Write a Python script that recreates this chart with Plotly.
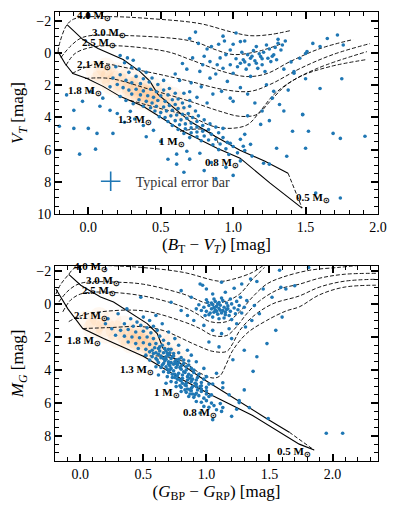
import plotly.graph_objects as go
from plotly.subplots import make_subplots

# ---- data ----
# Tycho panel: (B_T - V_T, V_T)
TYC_STARS = [
    (1.00, -0.55), (1.05, -0.71), (1.08, -0.75), (0.85, -0.40), (0.98, -0.19), (1.16, -0.40), (1.23, -0.50),
    (1.31, -0.61), (1.34, -0.50), (1.33, -0.19), (1.28, 0.11), (1.24, 0.32), (1.19, 0.22), (1.12, 0.32),
    (1.07, 0.42), (1.05, 0.63), (1.11, 0.73), (1.16, 0.63), (1.20, 0.73), (1.26, 0.53), (1.30, 0.42),
    (0.98, 0.73), (0.93, 0.94), (0.89, 0.73), (0.84, 0.53), (0.79, 0.73), (0.77, 1.14), (0.84, 1.56),
    (0.96, 1.76), (0.92, 2.38), (0.98, 2.80), (1.00, 3.00), (1.23, 1.97), (1.28, 2.38), (1.27, 2.80),
    (1.46, 0.32), (1.42, 1.25), (1.51, -0.09), (1.60, -0.40), (1.72, -1.12), (1.76, -0.50), (1.48, 3.83),
    (1.10, 0.10), (1.13, 0.20), (1.02, 0.35), (1.08, 0.55), (1.15, 0.48), (1.18, 0.05), (1.21, -0.05),
    (1.25, -0.25), (1.14, -0.15), (1.06, -0.05), (0.95, 0.10), (0.91, 0.30), (1.03, 0.85), (1.09, 1.00),
    (1.17, 0.95), (1.22, 1.15), (0.88, 1.30), (1.00, 1.25), (1.12, 1.45), (1.20, 0.35), (1.27, 0.20),
    (1.29, -0.35), (1.36, -0.75), (1.31, -0.85), (0.94, -0.75), (0.90, -0.55), (0.82, -0.25), (0.76, -0.60),
    (0.70, -0.90), (0.74, -1.30), (0.93, -1.05), (1.02, -1.25), (0.80, 0.20), (0.72, 0.30), (0.65, 0.65),
    (0.68, 1.00), (0.60, 1.30), (0.63, 1.70), (0.71, 1.85), (0.78, 2.10), (0.86, 2.55), (0.70, 2.40),
    (0.75, 2.75), (0.82, 3.10), (1.05, 2.15), (1.10, 2.55), (1.15, 3.10), (1.35, 1.00), (1.40, 0.55),
    (1.55, -0.60), (1.65, -0.90), (1.50, 1.60), (1.38, 2.30), (1.32, 3.20), (1.20, 3.60), (1.10, 3.90),
    (0.22, 0.15), (0.27, 0.30), (0.31, 0.45), (0.25, 0.60), (0.19, 0.85), (0.30, 0.90), (0.35, 1.00),
    (0.40, 1.20), (0.28, 1.20), (0.22, 1.35), (0.17, 1.55), (0.33, 1.45), (0.38, 1.60), (0.44, 1.55),
    (0.26, 1.70), (0.30, 1.85), (0.36, 1.90), (0.42, 1.80), (0.48, 1.95), (0.20, 1.95), (0.15, 2.10),
    (0.24, 2.15), (0.52, 1.70), (0.28, 2.30), (0.33, 2.25), (0.38, 2.35), (0.43, 2.25), (0.47, 2.40),
    (0.52, 2.30), (0.56, 2.20), (0.30, 2.55), (0.36, 2.60), (0.41, 2.65), (0.45, 2.75), (0.50, 2.65),
    (0.55, 2.60), (0.60, 2.50), (0.35, 2.90), (0.40, 3.00), (0.44, 3.10), (0.48, 2.95), (0.53, 3.00),
    (0.58, 2.90), (0.62, 2.85), (0.38, 3.30), (0.43, 3.40), (0.47, 3.30), (0.52, 3.35), (0.56, 3.25),
    (0.60, 3.20), (0.65, 3.10), (0.22, 2.70), (0.26, 2.95), (0.31, 3.15), (0.66, 2.50), (0.70, 2.95),
    (0.46, 3.60), (0.50, 3.70), (0.54, 3.60), (0.58, 3.55), (0.62, 3.45), (0.66, 3.40), (0.70, 3.30),
    (0.49, 3.95), (0.53, 4.00), (0.57, 3.90), (0.61, 3.85), (0.65, 3.80), (0.69, 3.75), (0.74, 3.60),
    (0.55, 4.25), (0.60, 4.20), (0.64, 4.15), (0.68, 4.05), (0.72, 4.00), (0.76, 3.90), (0.58, 4.50),
    (0.63, 4.45), (0.67, 4.40), (0.71, 4.35), (0.75, 4.25), (0.80, 4.15), (0.62, 4.75), (0.67, 4.70),
    (0.71, 4.65), (0.75, 4.60), (0.79, 4.50), (0.84, 4.40), (0.66, 5.00), (0.71, 4.95), (0.75, 4.90),
    (0.79, 4.85), (0.83, 4.75), (0.88, 4.60), (0.70, 5.25), (0.75, 5.20), (0.80, 5.15), (0.85, 5.05),
    (0.90, 4.95), (0.78, 5.45), (0.83, 5.40), (0.88, 5.35), (0.93, 5.25), (0.86, 5.70), (0.91, 5.65),
    (0.96, 5.55), (0.90, 6.00), (0.95, 5.95), (1.00, 5.80), (0.97, 6.30), (1.03, 6.20), (1.08, 6.05),
    (1.13, 6.40), (1.25, 6.90), (1.05, 6.70),
    (-0.20, 4.55), (-0.10, 4.68), (0.00, 4.68), (0.06, 4.99), (0.17, 4.99), (-0.06, 6.28), (0.05, 5.97),
    (-0.10, 3.56), (-0.04, 3.00), (0.15, 3.56), (0.20, 3.75), (0.29, 3.62), (0.08, 3.30), (0.25, 4.30),
    (0.32, 4.10), (0.38, 4.50), (0.45, 4.80), (0.40, 5.20), (0.50, 5.50), (-0.15, 2.60), (0.02, 2.40),
    (0.10, 2.80),
    (0.61, 6.28), (0.61, 6.90), (0.70, 6.59), (0.68, 6.10), (0.77, 6.22), (0.55, 6.60), (0.85, 6.80),
    (0.80, 7.30), (0.95, 7.10), (1.00, 7.60), (0.88, 7.80), (0.66, 7.40),
    (1.19, 4.43), (1.41, 4.86), (1.52, 4.86), (1.69, 4.99), (1.74, 5.30), (1.91, 5.17), (1.50, 5.91),
    (1.30, 5.91), (1.37, 6.41), (1.21, 6.84), (1.57, 8.70), (1.74, 9.00), (1.05, 5.36), (0.98, 5.60),
    (1.07, 5.79), (1.12, 5.67), (1.08, 5.05), (0.93, 4.68), (1.48, 3.81), (1.42, 1.15), (1.50, 0.03),
    (1.25, 4.20), (1.35, 3.60), (1.60, 2.20), (1.75, 1.60),
]

# Gaia panel: (G_BP - G_RP, M_G)
GAIA_STARS = [
    (1.02, 0.10), (1.05, 0.05), (1.08, 0.15), (1.11, 0.08), (1.14, 0.20), (1.17, 0.12), (1.04, 0.30),
    (1.07, 0.35), (1.10, 0.28), (1.13, 0.40), (1.16, 0.33), (1.19, 0.45), (1.00, 0.45), (1.03, 0.55),
    (1.06, 0.50), (1.09, 0.62), (1.12, 0.55), (1.15, 0.65), (1.18, 0.70), (1.01, -0.10), (1.04, -0.05),
    (1.07, -0.15), (1.10, -0.08), (1.13, -0.20), (1.16, -0.05), (1.20, 0.00), (1.22, 0.25), (0.98, 0.20),
    (0.96, 0.40), (0.99, 0.70), (1.05, 0.80), (1.10, 0.90), (1.14, 0.85), (1.20, 0.95), (1.23, 0.60),
    (1.25, 0.35), (1.26, 0.10), (1.24, -0.15), (1.19, -0.30), (1.12, -0.35), (1.06, -0.30), (1.00, -0.25),
    (0.94, 0.05), (0.92, 0.30), (1.08, 0.45), (1.11, 0.38), (1.06, 0.22), (1.15, 0.50), (1.02, 0.65),
    (1.17, 0.30), (1.09, 0.00), (1.28, 0.55), (1.30, 0.20), (1.27, -0.40), (1.32, -0.20),
    (0.95, -1.20), (1.00, -0.90), (1.05, -0.60), (1.12, -1.31), (0.97, -1.13), (1.15, -0.70), (1.22, -0.95),
    (1.28, -1.20), (1.35, -1.50), (1.40, -1.35), (1.45, -0.90), (1.58, -2.03), (1.81, -2.20), (1.59, -1.00),
    (1.63, -0.90), (1.70, -1.10), (1.52, -0.40), (1.38, 0.10), (1.42, 0.60), (1.36, 1.00), (1.31, 1.40),
    (1.24, 1.20), (1.18, 1.50), (1.12, 1.80), (1.05, 1.60), (0.98, 1.30), (0.90, 1.00), (0.85, 0.70),
    (0.80, 0.40), (0.88, -0.40), (0.80, -0.80), (0.72, -0.10), (1.02, 2.30), (1.10, 2.60), (1.20, 2.10),
    (1.30, 2.80), (1.40, 3.20), (1.21, 3.38), (1.37, 4.08), (1.48, 2.40), (1.55, 1.60), (1.60, 0.80),
    (0.30, 0.60), (0.37, 0.30), (0.48, -0.40), (0.40, 0.90), (0.45, 1.10), (0.50, 0.80), (0.55, 1.00),
    (0.35, 1.20), (0.42, 1.35), (0.48, 1.30), (0.53, 1.45), (0.58, 1.35), (0.25, 1.50), (0.32, 1.60),
    (0.38, 1.55), (0.44, 1.70), (0.50, 1.65), (0.56, 1.75), (0.61, 1.60), (0.28, 1.90), (0.35, 1.95),
    (0.41, 2.00), (0.47, 2.05), (0.53, 2.00), (0.58, 2.10), (0.63, 1.95), (0.66, 2.20), (0.38, 2.30),
    (0.44, 2.40), (0.50, 2.35), (0.55, 2.45), (0.60, 2.40), (0.65, 2.50), (0.70, 2.40), (0.46, 2.70),
    (0.52, 2.75), (0.57, 2.80), (0.62, 2.70), (0.68, 2.85), (0.72, 2.75), (0.20, 1.20), (0.22, 0.90),
    (0.60, 0.70), (0.65, 1.20), (0.70, 1.70), (0.75, 2.10), (0.78, 2.50),
    (0.58, 3.00), (0.62, 3.05), (0.66, 2.95), (0.70, 3.10), (0.74, 3.00), (0.78, 2.95), (0.60, 3.30),
    (0.64, 3.25), (0.68, 3.35), (0.72, 3.30), (0.76, 3.40), (0.80, 3.25), (0.62, 3.55), (0.66, 3.60),
    (0.70, 3.50), (0.74, 3.65), (0.78, 3.55), (0.82, 3.60), (0.86, 3.45), (0.64, 3.85), (0.68, 3.80),
    (0.72, 3.90), (0.76, 3.85), (0.80, 3.95), (0.84, 3.80), (0.88, 3.90), (0.66, 4.10), (0.70, 4.15),
    (0.74, 4.05), (0.78, 4.20), (0.82, 4.10), (0.86, 4.25), (0.90, 4.15), (0.69, 4.40), (0.73, 4.45),
    (0.77, 4.35), (0.81, 4.50), (0.85, 4.40), (0.89, 4.55), (0.93, 4.45), (0.72, 4.70), (0.76, 4.75),
    (0.80, 4.65), (0.84, 4.80), (0.88, 4.70), (0.92, 4.85), (0.96, 4.75), (0.76, 5.00), (0.80, 5.05),
    (0.84, 4.95), (0.88, 5.10), (0.92, 5.00), (0.96, 5.15), (1.00, 5.05), (0.80, 5.30), (0.84, 5.35),
    (0.88, 5.25), (0.92, 5.40), (0.96, 5.30), (1.00, 5.45), (0.86, 5.60), (0.90, 5.65), (0.94, 5.55),
    (0.98, 5.70), (1.02, 5.60), (0.92, 5.90), (0.96, 5.95), (1.00, 5.85), (1.04, 6.00), (0.98, 6.20),
    (1.02, 6.25), (1.06, 6.15), (1.08, 6.40), (1.12, 6.50),
    (0.67, 3.45), (0.71, 3.75), (0.75, 4.25), (0.79, 4.60), (0.83, 4.90), (0.87, 5.20), (0.91, 5.50),
    (0.73, 3.20), (0.77, 3.70), (0.81, 4.30), (0.85, 4.60), (0.89, 5.00), (0.93, 5.20), (0.63, 2.60),
    (0.69, 3.00), (0.75, 3.50), (0.79, 3.85), (0.83, 4.15), (0.87, 4.50), (0.91, 4.80), (0.95, 5.00),
    (0.60, 2.95), (0.64, 3.15), (0.68, 3.20), (0.72, 3.55), (0.76, 3.60), (0.80, 3.75), (0.84, 4.00),
    (0.88, 4.35), (0.92, 4.60), (0.96, 4.95), (1.00, 5.25), (1.04, 5.50), (0.65, 3.70), (0.69, 3.95),
    (0.73, 4.25), (0.77, 4.55), (0.81, 4.80), (0.85, 5.15), (0.89, 5.45), (0.70, 2.75), (0.74, 3.15),
    (0.78, 3.35), (0.82, 3.40), (0.86, 3.70), (0.90, 4.00), (0.94, 4.25), (0.98, 4.55), (1.02, 4.85),
    (0.71, 4.00), (0.75, 4.45), (0.79, 4.95), (0.83, 5.20), (0.87, 5.45), (0.66, 3.30), (0.70, 3.65),
    (0.61, 3.40), (0.59, 2.65), (0.55, 2.90), (0.57, 3.20), (0.63, 2.85), (0.67, 2.70), (0.71, 2.95),
    (1.05, 4.84), (1.13, 5.07), (1.11, 6.03), (1.13, 6.27), (1.26, 5.85), (1.34, 6.27), (1.49, 6.93),
    (1.95, 7.82), (2.08, 7.82), (1.13, 4.77), (1.26, 5.97), (1.24, 6.37), (1.18, 5.50), (1.30, 5.20),
    (1.20, 6.80), (1.05, 7.00), (0.95, 6.60), (1.00, 4.40), (1.08, 4.20), (0.98, 3.90), (0.92, 3.50),
    (0.88, 3.10), (0.85, 2.80), (0.55, 3.40), (0.52, 3.10), (0.60, 3.80), (0.62, 4.30), (0.68, 4.80),
]

# density cloud (orange shading) centres
TYC_CLOUD = [
    (0.05, 1.1), (0.10, 1.3), (0.15, 1.5), (0.20, 1.7), (0.25, 1.9), (0.30, 2.1), (0.35, 2.4), (0.40, 2.6),
    (0.45, 2.9), (0.50, 3.1), (0.55, 3.4), (0.60, 3.6), (0.68, 3.9), (0.12, 0.9), (0.20, 1.2), (0.28, 1.5),
    (0.36, 1.8), (0.44, 2.1), (0.52, 2.4), (0.58, 2.7), (0.64, 3.0), (0.08, 1.7), (0.16, 2.0), (0.24, 2.3),
    (0.32, 2.6), (0.40, 2.9), (0.46, 3.2), (0.30, 2.3), (0.38, 2.5), (0.42, 2.7), (0.34, 2.0), (0.45, 2.5),
    (0.36, 2.9), (0.50, 2.8),
]
GAIA_CLOUD = [
    (0.05, 1.0), (0.12, 1.2), (0.20, 1.4), (0.28, 1.6), (0.36, 1.9), (0.44, 2.1), (0.52, 2.4), (0.60, 2.7),
    (0.68, 3.0), (0.78, 3.3), (0.15, 0.8), (0.25, 1.0), (0.35, 1.3), (0.45, 1.5), (0.55, 1.8), (0.63, 2.1),
    (0.72, 2.4), (0.10, 1.5), (0.20, 1.8), (0.30, 2.1), (0.40, 2.4), (0.50, 2.7), (0.58, 3.0), (0.42, 1.8),
    (0.48, 2.0), (0.46, 2.3), (0.52, 2.1), (0.38, 2.1), (0.55, 2.5),
]

# main-sequence band edges
TYC_ZAMS_X = [-0.209, -0.161, -0.106, -0.009, 0.102, 0.219, 0.378, 0.654, 0.889, 1.048, 1.255, 1.476]
TYC_ZAMS_Y = [-0.09, 0.65, 1.27, 1.58, 2.07, 2.69, 3.31, 4.86, 5.91, 6.53, 8.08, 9.63]
TYC_TAMS_X = [-0.147, -0.037, 0.067, 0.240, 0.357, 0.426, 0.481, 0.564, 0.702, 0.875, 1.047, 1.220, 1.379]
TYC_TAMS_Y = [-1.76, -0.84, -0.28, 0.40, 1.15, 1.76, 2.57, 3.19, 4.24, 5.17, 6.04, 6.72, 7.46]
GAIA_ZAMS_X = [-0.193, -0.098, 0.020, 0.185, 0.500, 0.815, 1.051, 1.366, 1.736, 1.854]
GAIA_ZAMS_Y = [-0.90, 0.30, 1.49, 2.09, 3.16, 4.60, 5.55, 6.75, 8.48, 8.84]
GAIA_TAMS_X = [-0.091, 0.004, 0.161, 0.264, 0.531, 0.610, 0.657, 0.768, 0.949, 1.209, 1.476, 1.657]
GAIA_TAMS_Y = [-1.79, -1.13, -0.42, -0.12, 1.19, 1.79, 2.69, 3.46, 4.42, 5.67, 6.93, 7.76]

# evolutionary tracks, mass -> (colour, magnitude)
TYC_TRACKS = {
    "4.0": ([-0.209, -0.195, -0.147, -0.092, 0.150, 0.426, 0.771, 0.979, 1.117, 1.255, 1.393],
            [-0.09, -0.71, -1.76, -2.14, -2.26, -2.14, -1.83, -1.33, -1.08, -1.15, -1.39]),
    "3.0": ([-0.189, -0.126, -0.057, 0.012, 0.288, 0.654, 0.771, 0.875, 0.999, 1.165, 1.338],
            [0.28, -0.40, -0.90, -1.08, -1.08, -0.84, -0.59, -0.22, 0.09, -0.09, -0.59]),
    "2.5": ([-0.154, -0.092, 0.012, 0.171, 0.543, 0.702, 0.930, 1.096, 1.234, 1.393, 1.600, 1.828],
            [0.77, 0.03, -0.34, -0.46, -0.09, 0.40, 1.15, 1.46, 1.27, 0.53, -0.28, -0.84]),
    "2.1": ([-0.113, -0.023, 0.081, 0.288, 0.495, 0.702, 0.930, 1.117, 1.255, 1.462, 1.690, 1.945],
            [1.27, 0.90, 0.65, 0.96, 1.33, 1.76, 2.26, 2.38, 1.95, 0.96, 0.09, -0.59]),
    "1.8": ([-0.023, 0.150, 0.426, 0.702, 0.910, 1.048, 1.165, 1.255, 1.372, 1.579, 1.924],
            [1.58, 1.58, 2.26, 3.00, 3.62, 3.93, 3.81, 3.00, 1.95, 0.96, -0.09]),
    "1.3": ([0.288, 0.495, 0.702, 0.861, 0.999, 1.103, 1.186, 1.289, 1.462, 1.669, 1.924],
            [2.94, 3.44, 3.93, 4.55, 4.67, 4.43, 3.62, 2.51, 1.46, 0.84, 0.40]),
    "1": ([0.633, 0.792, 0.875, 0.896], [4.86, 4.74, 5.17, 5.60]),
    "0.5": ([1.379, 1.476], [7.46, 9.63]),
}
GAIA_TRACKS = {
    "4.0": ([-0.193, -0.154, -0.091, -0.059, -0.012, 0.106, 0.476, 0.815, 1.106, 1.209, 1.366, 1.461],
            [-0.60, -1.19, -1.79, -2.09, -2.27, -2.33, -2.21, -1.91, -1.37, -1.49, -1.91, -2.39]),
    "3.0": ([-0.169, -0.106, -0.035, 0.043, 0.303, 0.500, 0.815, 1.028, 1.161, 1.264, 1.366, 1.461],
            [-0.12, -0.72, -1.13, -1.31, -1.31, -1.19, -0.60, 0.00, -0.18, -0.60, -1.49, -2.21]),
    "2.5": ([-0.138, -0.075, 0.004, 0.161, 0.500, 0.815, 0.925, 1.028, 1.161, 1.264, 1.366, 1.476, 1.602, 1.815, 2.051, 2.209],
            [0.48, -0.24, -0.60, -0.72, -0.48, 0.18, 0.60, 1.07, 1.07, 0.48, -0.42, -1.19, -1.61, -2.03, -2.21, -2.33]),
    "2.1": ([-0.091, 0.004, 0.161, 0.500, 0.815, 0.949, 1.051, 1.161, 1.240, 1.319, 1.421, 1.579, 1.736, 1.894, 2.091, 2.343],
            [1.07, 0.72, 0.48, 0.42, 1.07, 1.49, 1.91, 1.91, 1.37, 0.60, -0.18, -0.90, -1.19, -1.55, -1.79, -1.85]),
    "1.8": ([0.020, 0.240, 0.476, 0.657, 0.925, 1.051, 1.161, 1.209, 1.264, 1.366, 1.524, 1.736, 1.894, 2.091, 2.343],
            [1.49, 1.43, 1.37, 1.61, 2.51, 2.87, 2.87, 2.39, 1.61, 0.78, 0.00, -0.48, -1.01, -1.37, -1.49]),
    "1.3": ([0.500, 0.634, 0.791, 0.949, 1.051, 1.106, 1.161, 1.209, 1.319, 1.476, 1.634, 1.736, 1.894, 2.091, 2.343],
            [3.16, 3.16, 3.40, 4.18, 4.48, 4.36, 3.58, 2.81, 1.79, 1.01, 0.42, 0.18, -0.54, -1.01, -1.13]),
    "0.5": ([1.657, 1.854], [7.76, 8.84]),
}

# mass labels: text, colour, magnitude
MASS_LABELS = ["4.0", "3.0", "2.5", "2.1", "1.8", "1.3", "1", "0.8", "0.5"]
TYC_LABEL_X = [0.040, 0.140, 0.075, 0.040, -0.020, 0.320, 0.580, 0.925, 1.550]
TYC_LABEL_Y = [-2.30, -1.25, -0.60, 0.75, 2.38, 4.15, 5.55, 6.85, 9.00]
GAIA_LABEL_X = [0.083, 0.177, 0.146, 0.083, 0.028, 0.453, 0.689, 0.949, 1.697]
GAIA_LABEL_Y = [-2.21, -1.40, -0.75, 0.72, 2.27, 4.00, 5.37, 6.57, 8.96]

BLUE = "#1f77b4"
FONT = "Liberation Serif"

fig = make_subplots(rows=2, cols=1)


def add_panel(row, stars, cloud, zams, tams, tracks):
    fig.add_trace(go.Scatter(
        x=[c[0] for c in cloud], y=[c[1] for c in cloud], mode="markers",
        marker=dict(size=20, color="rgb(255,150,60)", opacity=0.07, line=dict(width=0)),
        hoverinfo="skip", showlegend=False), row=row, col=1)
    for mass, (tx, ty) in tracks.items():
        fig.add_trace(go.Scatter(
            x=tx, y=ty, mode="lines", line=dict(color="black", width=0.9, dash="4px,2px", shape="spline"),
            showlegend=False, hoverinfo="skip"), row=row, col=1)
    for ex, ey in (zams, tams):
        fig.add_trace(go.Scatter(
            x=ex, y=ey, mode="lines", line=dict(color="black", width=1.1),
            showlegend=False, hoverinfo="skip"), row=row, col=1)
    fig.add_trace(go.Scatter(
        x=[s[0] for s in stars], y=[s[1] for s in stars], mode="markers",
        marker=dict(size=3.6, color=BLUE, line=dict(width=0)),
        showlegend=False), row=row, col=1)


add_panel(1, TYC_STARS, TYC_CLOUD, (TYC_ZAMS_X, TYC_ZAMS_Y), (TYC_TAMS_X, TYC_TAMS_Y), TYC_TRACKS)
add_panel(2, GAIA_STARS, GAIA_CLOUD, (GAIA_ZAMS_X, GAIA_ZAMS_Y), (GAIA_TAMS_X, GAIA_TAMS_Y), GAIA_TRACKS)

# legend entry for the typical error bar
fig.add_trace(go.Scatter(
    x=[None], y=[None], mode="markers", name="Typical error bar",
    marker=dict(symbol="cross-thin", size=14, color=BLUE, line=dict(width=1.6, color=BLUE))),
    row=1, col=1)

for i, m in enumerate(MASS_LABELS):
    for xr, yr, lx, ly in (("x", "y", TYC_LABEL_X, TYC_LABEL_Y), ("x2", "y2", GAIA_LABEL_X, GAIA_LABEL_Y)):
        fig.add_annotation(x=lx[i], y=ly[i], xref=xr, yref=yr, showarrow=False,
                           text=f"<b>{m} M<sub>⊙</sub></b>",
                           font=dict(family=FONT, size=11, color="black"))

tick_style = dict(showline=True, linecolor="black", linewidth=1, mirror="allticks",
                  ticks="inside", ticklen=7, tickwidth=1.5, tickcolor="black",
                  showgrid=False, zeroline=False,
                  tickfont=dict(family=FONT, size=14, color="black"),
                  title_font=dict(family=FONT, size=17, color="black"))

x_minor = dict(dtick=0.1, ticklen=4, tickwidth=1.2, tickcolor="black", ticks="inside")
y_minor = dict(dtick=0.5, ticklen=4, tickwidth=1.2, tickcolor="black", ticks="inside")

fig.update_xaxes(tick_style, row=1, col=1, range=[-0.23, 2.0], domain=[0, 1],
                 dtick=0.5, tick0=0, tickformat=".1f", minor=x_minor,
                 title=dict(text="(<i>B</i><sub>T</sub> − <i>V</i><sub><i>T</i></sub>) [mag]", standoff=2))
fig.update_yaxes(tick_style, row=1, col=1, range=[10, -2.55], domain=[0.550, 1],
                 dtick=2, tick0=0, minor=y_minor,
                 title=dict(text="<i>V</i><sub><i>T</i></sub> [mag]", standoff=8))
fig.update_xaxes(tick_style, row=2, col=1, range=[-0.2, 2.36], domain=[0, 1],
                 dtick=0.5, tick0=0, tickformat=".1f", minor=x_minor,
                 title=dict(text="(<i>G</i><sub>BP</sub> − <i>G</i><sub>RP</sub>) [mag]", standoff=2))
fig.update_yaxes(tick_style, row=2, col=1, range=[9.5, -2.3], domain=[0, 0.4346],
                 dtick=2, tick0=0, minor=y_minor,
                 title=dict(text="<i>M</i><sub><i>G</i></sub> [mag]", standoff=8))

# the page body adds an 8 px offset, so the figure is drawn 8 px smaller
fig.update_layout(
    template="simple_white",
    width=387, height=499,
    margin=dict(l=47, r=17, t=2, b=46),
    paper_bgcolor="white", plot_bgcolor="white",
    showlegend=True,
    legend=dict(x=0.095, y=0.622, xanchor="left", yanchor="middle",
                bgcolor="rgba(0,0,0,0)", font=dict(family=FONT, size=14, color="#333333"),
                itemwidth=40),
)

fig.write_html("out.html")
